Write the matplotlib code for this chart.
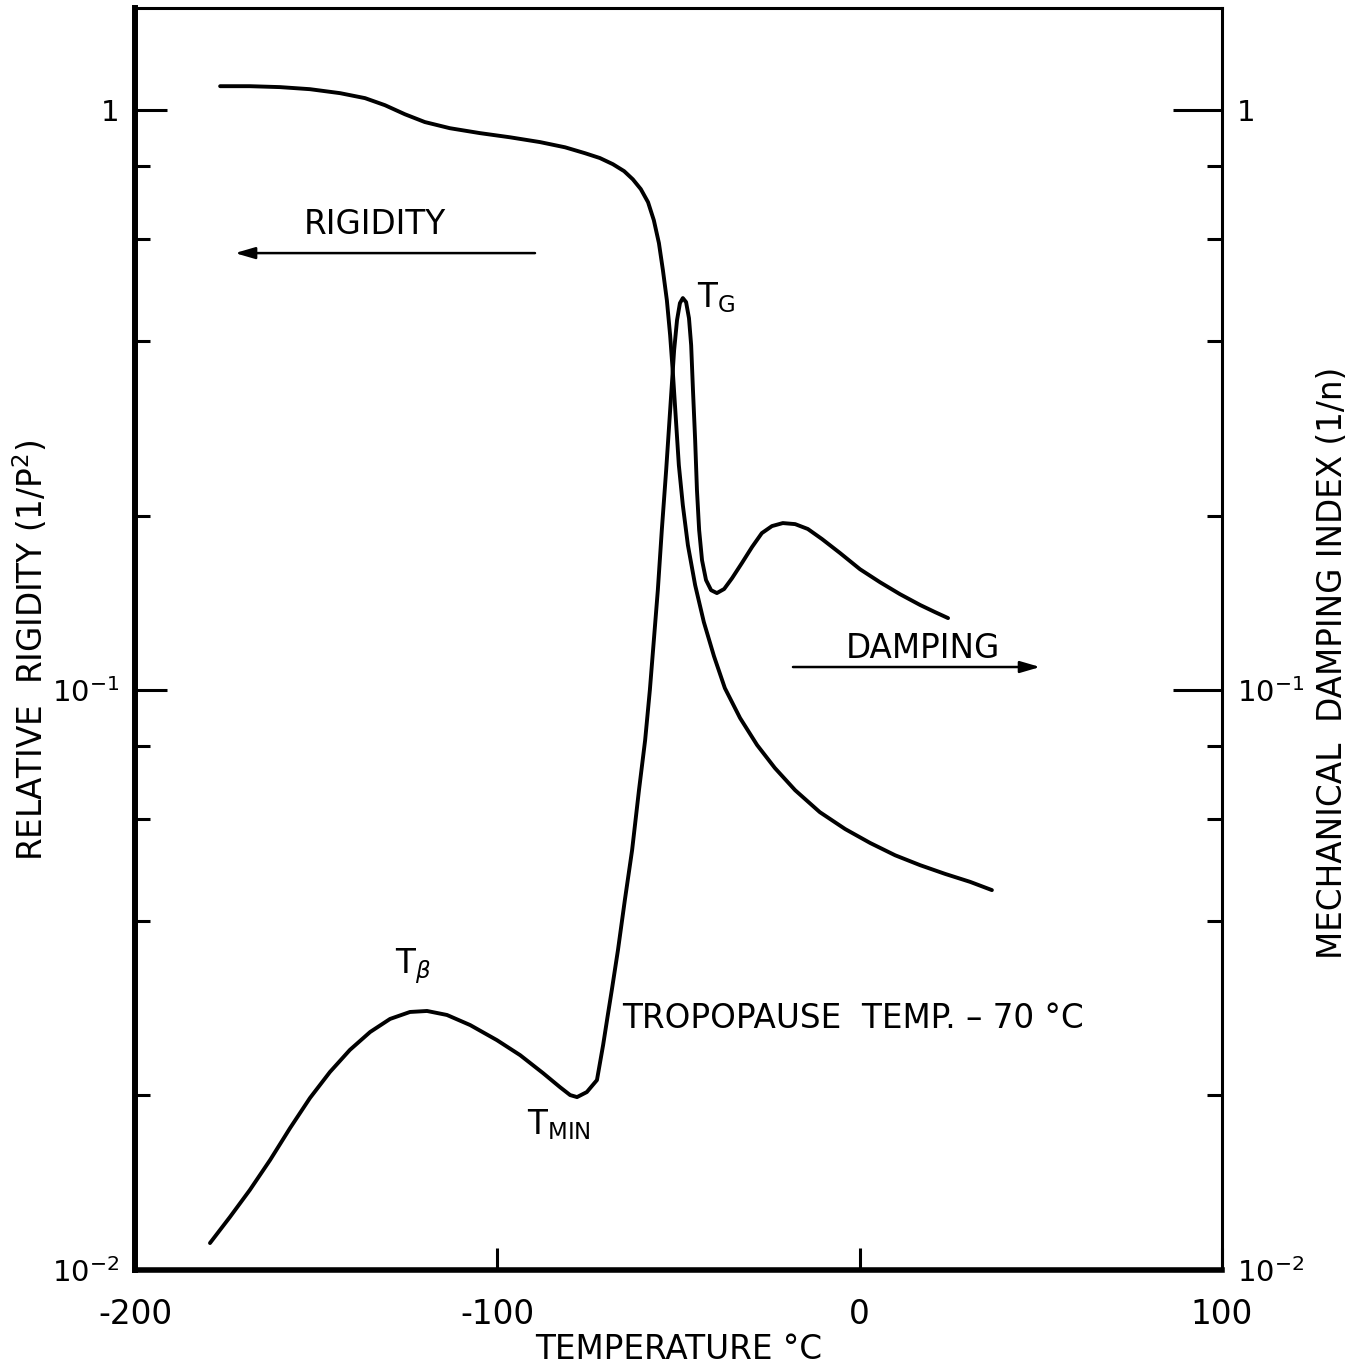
import numpy as np
import matplotlib.pyplot as plt
from matplotlib.ticker import FixedLocator, NullFormatter

plt.rcParams['font.family'] = 'DejaVu Sans'
plt.rcParams['mathtext.default'] = 'regular'

# relative rigidity (1/P^2) vs temperature
rigidity_temp = [-176.5, -168.3, -160.0, -151.7, -143.4, -136.5, -131.0, -125.5, -120.0,
                 -113.1, -104.8, -96.5, -88.2, -81.3, -75.8, -71.7, -68.1, -65.0, -62.6,
                 -60.4, -58.4, -56.8, -55.4, -54.3, -53.2, -52.3, -51.5, -50.7, -49.9,
                 -48.8, -47.4, -45.4, -43.0, -40.2, -37.2, -33.0, -28.3, -23.4, -17.8,
                 -11.0, -4.0, 2.9, 9.8, 16.7, 23.6, 30.5, 36.5]
rigidity = [1.100, 1.100, 1.096, 1.087, 1.070, 1.049, 1.020, 0.984, 0.954,
            0.931, 0.913, 0.898, 0.881, 0.863, 0.843, 0.827, 0.807, 0.785, 0.760,
            0.731, 0.694, 0.646, 0.590, 0.530, 0.470, 0.409, 0.349, 0.292, 0.2443,
            0.2084, 0.1778, 0.1517, 0.1310, 0.1144, 0.1008, 0.0895, 0.0804, 0.0734, 0.0672,
            0.0616, 0.0576, 0.0545, 0.0519, 0.0499, 0.0482, 0.0467, 0.0452]

# mechanical damping index (1/n) vs temperature
damping_temp = [-179.3, -173.8, -168.3, -162.7, -157.2, -151.7, -146.2, -140.7, -135.1,
                -129.6, -124.1, -119.4, -113.9, -107.5, -100.1, -93.7, -87.4, -82.7, -79.9,
                -78.0, -75.3, -72.5, -70.8, -69.5, -68.4, -66.7, -64.8, -62.8, -60.9,
                -59.2, -57.9, -56.8, -55.7, -54.6, -53.4, -52.3, -51.2, -50.4, -49.6,
                -48.8, -47.9, -47.1, -46.5, -46.0, -45.4, -44.9, -44.3, -43.5, -42.4,
                -41.0, -39.4, -37.4, -35.2, -32.5, -29.7, -27.0, -24.2, -21.2, -17.8,
                -14.3, -10.4, -5.4, 0.1, 5.6, 11.1, 16.7, 20.8, 24.4]
damping = [0.01113, 0.01234, 0.01374, 0.01548, 0.01757, 0.01980, 0.02195, 0.02396, 0.02573,
           0.02710, 0.02786, 0.02797, 0.02753, 0.02645, 0.02491, 0.02347, 0.02186, 0.02067, 0.02003,
           0.01987, 0.02027, 0.02126, 0.02443, 0.02753, 0.03040, 0.03563, 0.04345, 0.05297, 0.06724,
           0.08200, 0.1000, 0.1219, 0.1487, 0.1888, 0.2395, 0.3039, 0.3857, 0.4345, 0.4648,
           0.4743, 0.4667, 0.4378, 0.3933, 0.3290, 0.2698, 0.2212, 0.1888, 0.1675, 0.1548,
           0.1487, 0.1470, 0.1494, 0.1560, 0.1656, 0.1765, 0.1865, 0.1918, 0.1941, 0.1933,
           0.1896, 0.1822, 0.1723, 0.1616, 0.1535, 0.1464, 0.1402, 0.1363, 0.1331]

x_ticks = [-200, -100, 0, 100]
x_labels = ['-200', '-100', '0', '100']
y_ticks = [0.01, 0.1, 1]
y_labels = ['$10^{-2}$', '$10^{-1}$', '1']
y_minor = [0.02, 0.04, 0.06, 0.08, 0.2, 0.4, 0.6, 0.8]

FS = 23.5
TICK_FS = 21

fig = plt.figure(figsize=(13.62, 13.69), dpi=100)
ax = fig.add_axes([0.0991, 0.0723, 0.7981, 0.9218])

ax.plot(rigidity_temp, rigidity, color='black', lw=2.8, solid_capstyle='round',
        solid_joinstyle='round')
ax.plot(damping_temp, damping, color='black', lw=2.8, solid_capstyle='round',
        solid_joinstyle='round')

ax.set_xlim(-200, 100)
ax.set_yscale('log')
ax.set_ylim(0.01, 1.5)

for side, w in [('left', 4.3), ('bottom', 4.0), ('top', 2.2), ('right', 2.2)]:
    ax.spines[side].set_linewidth(w)

ax.set_xticks(x_ticks)
ax.set_xticklabels(x_labels, fontsize=FS)
ax.yaxis.set_major_locator(FixedLocator(y_ticks))
ax.set_yticklabels(y_labels, fontsize=TICK_FS)
ax.yaxis.set_minor_locator(FixedLocator(y_minor))
ax.yaxis.set_minor_formatter(NullFormatter())
ax.tick_params(axis='x', direction='in', length=16, width=2.2, pad=20)
ax.tick_params(axis='y', which='major', direction='in', length=23, width=2.2, pad=11)
ax.tick_params(axis='y', which='minor', direction='in', length=11, width=2.2)

# right-hand damping scale, same decades
ax2 = ax.twinx()
ax2.set_yscale('log')
ax2.set_ylim(ax.get_ylim())
ax2.yaxis.set_major_locator(FixedLocator(y_ticks))
ax2.set_yticklabels(y_labels, fontsize=TICK_FS)
ax2.yaxis.set_minor_locator(FixedLocator(y_minor))
ax2.yaxis.set_minor_formatter(NullFormatter())
ax2.tick_params(axis='y', which='major', direction='in', length=35, width=2.2, pad=11)
ax2.tick_params(axis='y', which='minor', direction='in', length=11, width=2.2)
for s in ax2.spines.values():
    s.set_visible(False)

fig.text(0.4985, 0.0145, 'TEMPERATURE °C', fontsize=FS, ha='center', va='center')
fig.text(0.0225, 0.525, 'RELATIVE  RIGIDITY (1/P$^2$)', fontsize=FS,
         rotation=90, ha='center', va='center')
fig.text(0.978, 0.516, 'MECHANICAL  DAMPING INDEX (1/n)', fontsize=FS,
         rotation=90, ha='center', va='center')

arrow = dict(arrowstyle='-|>,head_length=1.2,head_width=0.35', color='black', lw=1.8,
             shrinkA=0, shrinkB=0)
ax.annotate('', xy=(-172.4, 0.567), xytext=(-89.6, 0.567), arrowprops=arrow)
ax.text(-133.8, 0.634, 'RIGIDITY', fontsize=FS, ha='center', va='center')
ax.annotate('', xy=(49.8, 0.1096), xytext=(-18.4, 0.1096), arrowprops=arrow)
ax.text(17.5, 0.118, 'DAMPING', fontsize=FS, ha='center', va='center')

ax.text(-44.9, 0.476, 'T$_G$', fontsize=FS, ha='left', va='center')
ax.text(-128.2, 0.0334, r'T$_{\mathit{\beta}}$', fontsize=FS, ha='left', va='center')
ax.text(-91.8, 0.01778, 'T$_{MIN}$', fontsize=FS, ha='left', va='center')
ax.text(-65.6, 0.0272, 'TROPOPAUSE  TEMP. \u2013 70 °C', fontsize=FS, ha='left', va='center')

fig.savefig('out.png', dpi=100)
